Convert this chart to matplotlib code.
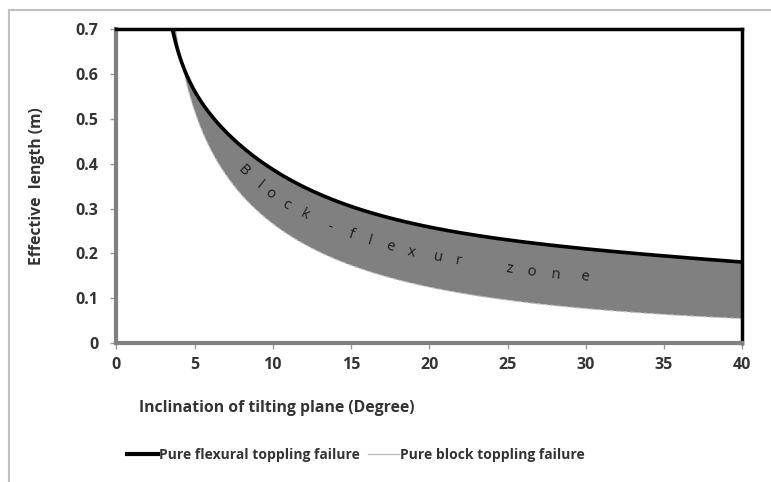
import numpy as np
import matplotlib
matplotlib.use("Agg")
import matplotlib.pyplot as plt
from matplotlib.lines import Line2D

# values
flex_angle = [3.6, 4, 4.5, 5, 5.5, 6, 7, 8, 9, 10, 12, 14, 16, 18, 20, 25, 30, 35, 40]
flex_length = [0.70, 0.642, 0.598, 0.563, 0.534, 0.510, 0.473, 0.440, 0.411, 0.389,
               0.347, 0.314, 0.292, 0.276, 0.262, 0.230, 0.209, 0.194, 0.181]
block_angle = [3.75, 4, 4.5, 5, 5.5, 6, 7, 8, 9, 10, 12, 14, 16, 18, 20, 25, 30, 35, 40]
block_length = [0.70, 0.665, 0.590, 0.522, 0.470, 0.425, 0.370, 0.330, 0.297, 0.270,
                0.223, 0.188, 0.160, 0.139, 0.124, 0.096, 0.077, 0.064, 0.054]
x_ticks = [0, 5, 10, 15, 20, 25, 30, 35, 40]
y_ticks = [0, 0.1, 0.2, 0.3, 0.4, 0.5, 0.6, 0.7]

zone_chars = list("Block-flexurzone")
zone_x = [8.1, 9.17, 9.81, 10.87, 12.04, 13.64, 15.02, 16.19, 17.47, 18.85,
          20.55, 21.83, 25.12, 26.51, 28.1, 29.91]

plt.rcParams['font.family'] = ['Open Sans', 'DejaVu Sans']


def smooth(xs, ys, n=400):
    # smoothed line like Excel's: least-squares curve in log-log space
    lx, ly = np.log(xs), np.log(ys)
    coef = np.polyfit(lx, ly, 5)
    gx = np.linspace(lx[0] - 0.03, lx[-1], n)
    return np.exp(gx), np.exp(np.polyval(coef, gx))


fx, fy = smooth(flex_angle, flex_length)
bx, by = smooth(block_angle, block_length)

fig = plt.figure(figsize=(7.71, 4.82), dpi=100)
ax = fig.add_axes([0.1508, 0.2884, 0.8120, 0.6508])

# shaded zone between the two curves
ax.fill(np.concatenate([fx, bx[::-1]]), np.concatenate([fy, by[::-1]]),
        color='#808080', lw=0, zorder=1)
ax.plot(bx, by, color='#c8c8c8', lw=0.8, ls=(0, (4, 2)), zorder=2)
ax.plot(fx, fy, color='black', lw=2.6, zorder=3, solid_capstyle='butt')

ax.set_xlim(0, 40)
ax.set_ylim(0, 0.7)
ax.set_xticks(x_ticks)
ax.set_yticks(y_ticks)
ax.set_xticklabels([str(v) for v in x_ticks])
ax.set_yticklabels(['0' if v == 0 else f'{v:.1f}' for v in y_ticks])
for lab in ax.get_xticklabels() + ax.get_yticklabels():
    lab.set_fontweight('bold')
    lab.set_fontsize(11.5)
    lab.set_color('#333333')
ax.tick_params(axis='both', direction='out', length=4, width=1, color='#999999')
ax.tick_params(axis='y', pad=9)
ax.tick_params(axis='x', pad=6)

for side in ['left', 'bottom']:
    ax.spines[side].set_color('#808080')
    ax.spines[side].set_linewidth(3)
for side in ['top', 'right']:
    ax.spines[side].set_color('black')
    ax.spines[side].set_linewidth(2.5)

# zone label, one character at a time along the band
fig.canvas.draw()
trans = ax.transData


def mid(x):
    f = np.interp(x, fx, fy)
    b = np.interp(x, bx, by)
    return f - 0.48 * (f - b)


for ch, cx in zip(zone_chars, zone_x):
    p1 = trans.transform((cx - 0.3, mid(cx - 0.3)))
    p2 = trans.transform((cx + 0.3, mid(cx + 0.3)))
    ang = np.degrees(np.arctan2(p2[1] - p1[1], p2[0] - p1[0]))
    ax.text(cx, mid(cx), ch, rotation=ang, rotation_mode='anchor',
            ha='center', va='center', fontsize=10.5, color='#1a1a1a', zorder=4)

fig.text(0.048, 0.613, 'Effective  length (m)', rotation=90, ha='center', va='center',
         fontsize=11.3, fontweight='bold', color='#333333')
fig.text(0.359, 0.153, 'Inclination of tilting plane (Degree)', ha='center', va='center',
         fontsize=11.3, fontweight='bold', color='#333333')

handles = [Line2D([], [], color='black', lw=3),
           Line2D([], [], color='#c0c0c0', lw=1)]
fig.legend(handles, ['Pure flexural toppling failure', 'Pure block toppling failure'],
           loc='center', bbox_to_anchor=(0.462, 0.056), ncol=2, frameon=False,
           handlelength=2.2, handletextpad=0.1, columnspacing=0.6,
           prop={'weight': 'bold', 'size': 10}, labelcolor='#333333')

# outer chart frame (cropped on right and bottom)
fig.add_artist(Line2D([9 / 771, 9 / 771], [0, 1 - 10 / 482], transform=fig.transFigure,
                      color='#c0c0c0', lw=1.5))
fig.add_artist(Line2D([9 / 771, 1], [1 - 10 / 482, 1 - 10 / 482], transform=fig.transFigure,
                      color='#c0c0c0', lw=1.5))

fig.savefig('out.png', dpi=100)
